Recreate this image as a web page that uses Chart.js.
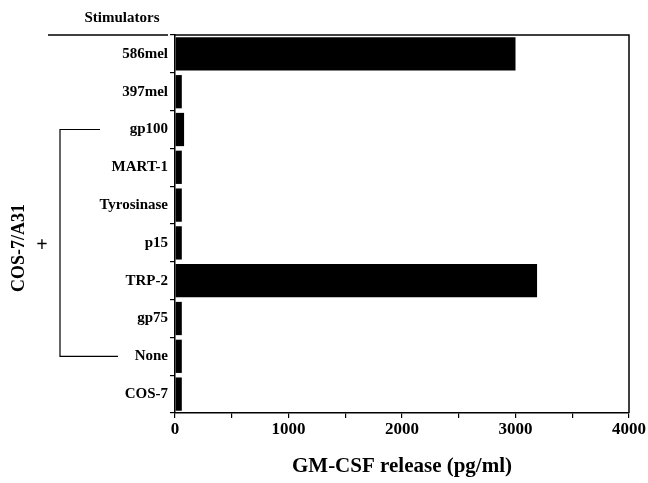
<!DOCTYPE html>
<html><head><meta charset="utf-8">
<script src="https://cdn.jsdelivr.net/npm/chart.js@4/dist/chart.umd.min.js"></script>
<style>html,body{margin:0;padding:0;background:#fff}#w{width:648px;height:483px}</style>
</head><body><div id="w"><canvas id="c"></canvas></div>
<script>
const categories = ["586mel","397mel","gp100","MART-1","Tyrosinase","p15","TRP-2","gp75","None","COS-7"];
const release = [3000, 60, 80, 60, 60, 60, 3190, 60, 60, 60];
const xTickLabels = ["0","1000","2000","3000","4000"];
const FONT = "'Liberation Serif', 'Times New Roman', serif";

const decor = {
  id: 'decor',
  afterDraw(chart) {
    const ctx = chart.ctx, a = chart.chartArea, y = chart.scales.y;
    ctx.save();
    ctx.strokeStyle = '#000'; ctx.fillStyle = '#000';
    ctx.lineWidth = 1.5;
    ctx.beginPath();
    ctx.moveTo(a.left, a.top); ctx.lineTo(a.right, a.top); ctx.lineTo(a.right, a.bottom);
    ctx.stroke();
    // header
    ctx.font = "bold 15px " + FONT;
    ctx.textAlign = 'center'; ctx.textBaseline = 'middle';
    ctx.fillText('Stimulators', 122, 18);
    ctx.beginPath(); ctx.moveTo(48, a.top); ctx.lineTo(168, a.top); ctx.stroke();
    // bracket
    const yTop = y.getPixelForValue(2), yBot = y.getPixelForValue(8);
    ctx.lineWidth = 1.2;
    ctx.beginPath();
    ctx.moveTo(100, yTop); ctx.lineTo(60, yTop); ctx.lineTo(60, yBot); ctx.lineTo(118, yBot);
    ctx.stroke();
    // rotated label
    ctx.save();
    ctx.translate(19, 248); ctx.rotate(-Math.PI/2);
    ctx.font = "bold 18px " + FONT;
    ctx.fillText('COS-7/A31', 0, 0);
    ctx.restore();
    ctx.font = "bold 20px " + FONT;
    ctx.fillText('+', 42, 246);
    ctx.restore();
  }
};

new Chart(document.getElementById('c'), {
  type: 'bar',
  data: { labels: categories, datasets: [{ data: release, backgroundColor: '#000', borderWidth: 0,
    barPercentage: 0.88, categoryPercentage: 1 }] },
  options: {
    indexAxis: 'y', responsive: true, maintainAspectRatio: false, animation: false,
    layout: { padding: { top: 35, right: 19, left: 0, bottom: 0 } },
    plugins: { legend: { display: false }, tooltip: { enabled: false } },
    scales: {
      x: {
        min: 0, max: 4000,
        ticks: { stepSize: 500, autoSkip: false, maxRotation: 0, color: '#000', font: { family: FONT, weight: 'bold', size: 17 }, padding: 1,
          callback: (v) => (v % 1000 === 0 ? xTickLabels[v / 1000] : '') },
        grid: { drawOnChartArea: false, tickLength: 5, color: '#000', lineWidth: 1.2 },
        border: { color: '#000', width: 1.5 },
        title: { display: true, text: 'GM-CSF release (pg/ml)', color: '#000', font: { family: FONT, weight: 'bold', size: 21 }, padding: { top: 10 } },
        afterFit: (s) => { s.height = 70; }
      },
      y: {
        ticks: { color: '#000', font: { family: FONT, weight: 'bold', size: 15 }, padding: 2 },
        grid: { drawOnChartArea: false, offset: true, tickLength: 5, color: '#000', lineWidth: 1.2 },
        border: { color: '#000', width: 1.5 },
        afterFit: (s) => { s.width = 175; }
      }
    }
  },
  plugins: [decor]
});
</script></body></html>
